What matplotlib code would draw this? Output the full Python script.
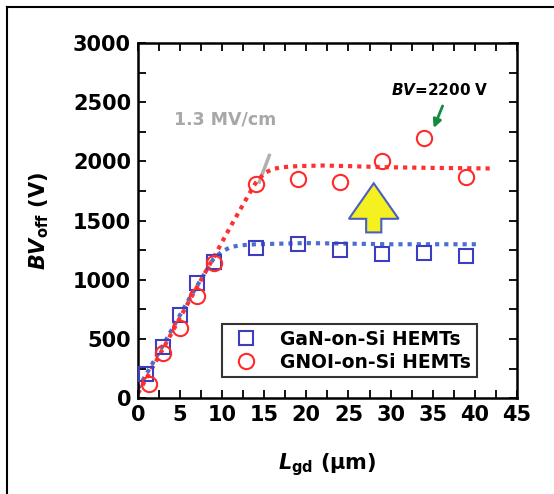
import numpy as np
import matplotlib
matplotlib.use("Agg")
import matplotlib.pyplot as plt
import matplotlib.ticker as ticker
from matplotlib.patches import FancyArrow
from matplotlib.lines import Line2D

plt.rcParams['font.family'] = ['DejaVu Sans']
plt.rcParams['font.weight'] = 'bold'
plt.rcParams['mathtext.fontset'] = 'custom'
plt.rcParams['mathtext.rm'] = 'DejaVu Sans:bold'
plt.rcParams['mathtext.it'] = 'DejaVu Sans:italic:bold'
plt.rcParams['mathtext.bf'] = 'DejaVu Sans:bold'

# measured data
lgd_gan = [1, 3, 5, 7, 9, 14, 19, 24, 29, 34, 39]
bv_gan = [200, 430, 700, 970, 1150, 1270, 1305, 1250, 1220, 1230, 1200]
lgd_gnoi = [1.3, 3, 5, 7, 9, 14, 19, 24, 29, 34, 39]
bv_gnoi = [120, 380, 590, 860, 1140, 1810, 1850, 1830, 2000, 2200, 1865]

# guide curves
fit_gan_x = [0, 3, 6, 9, 10, 11, 12, 14, 17, 20, 25, 30, 35, 40.5]
fit_gan_y = [80, 450, 830, 1180, 1240, 1275, 1290, 1300, 1305, 1310, 1305, 1300, 1300, 1300]
fit_gnoi_x = [0, 3, 6, 9, 11, 13, 14, 15, 16, 17, 19, 22, 25, 30, 35, 42]
fit_gnoi_y = [40, 420, 810, 1190, 1450, 1700, 1820, 1900, 1935, 1950, 1960, 1965, 1960, 1950, 1945, 1940]

blue = '#3d3dbf'
red = '#ff2a2a'

fig = plt.figure(figsize=(5.54, 4.94), dpi=100)
ax = fig.add_axes([0.249, 0.194, 0.684, 0.719])

ax.plot(fit_gan_x, fit_gan_y, linestyle=(0, (1, 1.2)), color='#4a6fd0', lw=3, zorder=2)
ax.plot(fit_gnoi_x, fit_gnoi_y, linestyle=(0, (1, 1.2)), color='#ff3030', lw=3, zorder=2)

ax.plot(lgd_gan, bv_gan, 's', ms=10, mfc='none', mec=blue, mew=1.5,
        label='GaN-on-Si HEMTs', zorder=3)
ax.plot(lgd_gnoi, bv_gnoi, 'o', ms=11, mfc='none', mec=red, mew=1.5,
        label='GNOI-on-Si HEMTs', zorder=3)

ax.set_xlim(0, 45)
ax.set_ylim(0, 3000)
ax.xaxis.set_major_locator(ticker.MultipleLocator(5))
ax.xaxis.set_minor_locator(ticker.MultipleLocator(2.5))
ax.yaxis.set_major_locator(ticker.MultipleLocator(500))
ax.yaxis.set_minor_locator(ticker.MultipleLocator(250))
ax.tick_params(which='both', direction='in', top=True, right=True,
               labelsize=15, width=1.3, pad=5)
ax.tick_params(which='major', length=6)
ax.tick_params(which='minor', length=6)
for lab in ax.get_xticklabels() + ax.get_yticklabels():
    lab.set_fontweight('bold')
for sp in ax.spines.values():
    sp.set_linewidth(1.8)

ax.set_xlabel(r'$L_{\rm gd}$ (' + '\u00b5m)', fontsize=15, fontweight='bold', labelpad=19)
ax.set_ylabel(r'$BV_{\rm off}$ (V)', fontsize=15, fontweight='bold', labelpad=16)

leg = ax.legend(loc='lower right', bbox_to_anchor=(0.894, 0.059), fontsize=13.5,
                frameon=True, fancybox=False, edgecolor='black',
                handlelength=2.0, handletextpad=0.8, borderpad=0.3, labelspacing=0.2,
                borderaxespad=0)
leg.get_frame().set_linewidth(1.5)

# annotations
ax.text(4.3, 2350, '1.3 MV/cm', color='#a8a8a8', fontsize=12.5, va='center')
ax.plot([15.6, 14.4], [2050, 1825], color='#b0b0b0', lw=2.5, zorder=1)
ax.text(30, 2600, r'$BV$=2200 V', color='black', fontsize=11, va='center')
ax.annotate('', xy=(35.0, 2260), xytext=(36.3, 2490),
            arrowprops=dict(arrowstyle='-|>', color='#138a3c', lw=2, mutation_scale=12))
ax.add_patch(FancyArrow(28, 1400, 0, 415, width=1.8, head_width=5.9, head_length=300,
                        length_includes_head=True, facecolor='#f5f020',
                        edgecolor='#4a5fc0', lw=1.5, zorder=3))

# outer border of the scanned figure
fig.add_artist(Line2D([7 / 554, 7 / 554], [0, 1 - 7 / 494], transform=fig.transFigure,
                      color='black', lw=1.5))
fig.add_artist(Line2D([7 / 554, 1], [1 - 7 / 494, 1 - 7 / 494], transform=fig.transFigure,
                      color='black', lw=1.5))

fig.savefig('out.png', dpi=100)
